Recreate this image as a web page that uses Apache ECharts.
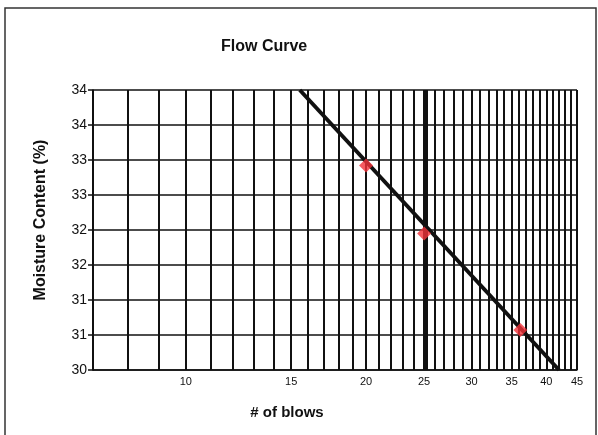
<!DOCTYPE html>
<html>
<head>
<meta charset="utf-8">
<script src="https://cdn.jsdelivr.net/npm/echarts@6/dist/echarts.min.js"></script>
<style>
  html, body { margin: 0; padding: 0; background: #fff; }
  #chart { width: 598px; height: 435px; }
</style>
</head>
<body>
<div id="chart"></div>
<script>
// measured points (# of blows, moisture %)
const blows = [20, 25, 36.2]
const moisture = [32.92, 31.95, 30.57]

// trend line end points
const trendBlows = [15.5, 42]
const trendMoisture = [34, 30]

const xLabelValues = [10, 15, 20, 25, 30, 35, 40, 45]
const xGridValues = []
for (let b = 7; b <= 45; b++) xGridValues.push(b)
const markBlows = 25

const xMin = 7
const xMax = 45

const lg = (v) => Math.log10(v)

const chart = echarts.init(document.getElementById("chart"))

const options = {
  animation: false,
  textStyle: { fontFamily: "Liberation Sans, Arial, sans-serif" },
  graphic: [
    {
      type: "rect",
      shape: { x: 5, y: 8, width: 591, height: 440 },
      style: { fill: "none", stroke: "#333", lineWidth: 1.5 },
    },
  ],
  title: {
    text: "Flow Curve",
    left: 216,
    top: 34,
    textStyle: { fontSize: 16, fontWeight: "bold", color: "#111" },
  },
  grid: {
    left: 93,
    right: 21,
    top: 90,
    bottom: 65,
  },
  xAxis: {
    type: "value",
    min: lg(xMin),
    max: lg(xMax),
    name: "# of blows",
    nameLocation: "middle",
    nameGap: 35,
    nameTextStyle: { fontSize: 15, fontWeight: "bold", color: "#111", padding: [0, 96, 0, 0] },
    axisLine: { show: true, lineStyle: { color: "#111", width: 1.5 } },
    axisTick: { show: false, customValues: xGridValues.map(lg) },
    axisLabel: {
      customValues: xLabelValues.map(lg),
      formatter: (v) => Math.round(Math.pow(10, v)),
      fontSize: 11,
      color: "#111",
      margin: 6,
    },
    splitLine: { show: true, lineStyle: { color: "#111", width: 2 } },
  },
  yAxis: {
    type: "value",
    min: 30,
    max: 34,
    interval: 0.5,
    name: "Moisture Content (%)",
    nameLocation: "middle",
    nameGap: 44,
    nameTextStyle: { fontSize: 16, fontWeight: "bold", color: "#111", padding: [0, 0, 0, 20] },
    axisLine: { show: true, lineStyle: { color: "#111", width: 1.5 } },
    axisTick: { show: true, length: 5, lineStyle: { color: "#111", width: 1.5 } },
    axisLabel: {
      formatter: (v) => v.toFixed(0),
      fontSize: 14,
      color: "#111",
      margin: 6,
    },
    splitLine: { show: true, lineStyle: { color: "#111", width: 1.5 } },
  },
  series: [
    {
      name: "Trend",
      type: "line",
      data: trendBlows.map((b, i) => [lg(b), trendMoisture[i]]),
      symbol: "none",
      lineStyle: { color: "#111", width: 4 },
      z: 3,
      markLine: {
        silent: true,
        z: 2,
        symbol: "none",
        label: { show: false },
        lineStyle: { color: "#111", width: 4, type: "solid" },
        data: [{ xAxis: lg(markBlows) }],
      },
    },
    {
      name: "Moisture",
      type: "scatter",
      data: blows.map((b, i) => [lg(b), moisture[i]]),
      symbol: "diamond",
      symbolSize: 14,
      itemStyle: { color: "#f2323a" },
      z: 10,
    },
  ],
}

chart.setOption(options)
</script>
</body>
</html>
